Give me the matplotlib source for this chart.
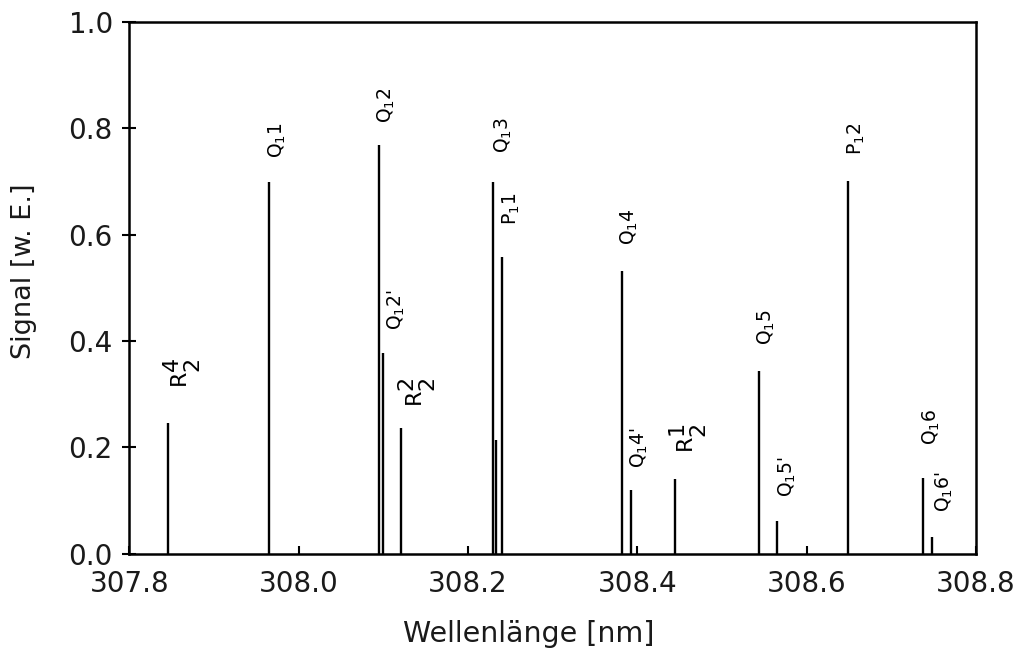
import numpy as np
import matplotlib
matplotlib.use("Agg")
import matplotlib.pyplot as plt

plt.rcParams['mathtext.default'] = 'regular'
plt.rcParams['font.family'] = ['DejaVu Sans']

# Linienlagen [nm] und Signalhöhen [w. E.]
wellenlaenge = [307.845, 307.965, 308.095, 308.100, 308.1205, 308.230, 308.2327,
                308.240, 308.3815, 308.392, 308.4445, 308.544, 308.5646, 308.649,
                308.737, 308.748]
signal = [0.245, 0.699, 0.768, 0.378, 0.237, 0.699, 0.214,
          0.558, 0.532, 0.120, 0.140, 0.344, 0.062, 0.701,
          0.142, 0.032]
bezeichnung = [r"R$\genfrac{}{}{0}{0}{4}{2}$", r"Q$_1$1", r"Q$_1$2", r"Q$_1$2'",
               r"R$\genfrac{}{}{0}{0}{2}{2}$", r"Q$_1$3", "",
               r"P$_1$1", r"Q$_1$4", r"Q$_1$4'", r"R$\genfrac{}{}{0}{0}{1}{2}$",
               r"Q$_1$5", r"Q$_1$5'", r"P$_1$2", r"Q$_1$6", r"Q$_1$6'"]

# Versatz der Beschriftungen (Punkte): seitlich, ueber der Linie
versatz_x = [10.5, 6, 5.3, 9.6, 11.5, 6.8, 0, 6.8, 5.3, 6, 9.4, 5.3, 7.5, 6, 6, 8.9]
versatz_y = [25.2, 17.3, 15.8, 16.6, 15.1, 20.9, 0, 23, 18.7, 15.8, 18.7, 18.7, 17.3,
             18.7, 23.8, 18]

fig = plt.figure(figsize=(10.22, 6.48), dpi=100)
ax = fig.add_axes([0.1267, 0.1455, 0.8283, 0.8205])

ax.vlines(wellenlaenge, 0, signal, color="black", linewidth=1.7)

for x, y, txt, dx, dy in zip(wellenlaenge, signal, bezeichnung, versatz_x, versatz_y):
    if not txt:
        continue
    # R-Linien: gestapelte Ziffern, etwas groesser
    gross = 16 if txt.startswith("R") else 13.5
    ax.annotate(txt, (x, y), xytext=(dx, dy), textcoords="offset points",
                rotation=90, ha="center", va="bottom", fontsize=gross)

ax.set_xlim(307.8, 308.8)
ax.set_ylim(0, 1.0)
ax.set_xticks(np.arange(307.8, 308.81, 0.2))
ax.set_yticks(np.arange(0, 1.01, 0.2))
ax.xaxis.set_major_formatter(plt.FormatStrFormatter("%.1f"))
ax.yaxis.set_major_formatter(plt.FormatStrFormatter("%.1f"))

ax.tick_params(axis="x", direction="in", length=6, width=1.5, pad=12, labelsize=20,
               labelcolor="#1a1a1a")
ax.tick_params(axis="y", direction="inout", length=10, width=1.5, pad=7, labelsize=20,
               labelcolor="#1a1a1a")
for s in ax.spines.values():
    s.set_linewidth(1.8)

ax.set_xlabel("Wellenlänge [nm]", fontsize=20.5, color="#1a1a1a")
ax.set_ylabel("Signal [w. E.]", fontsize=19.5, color="#1a1a1a")
ax.xaxis.set_label_coords(0.472, -0.125)
ax.yaxis.set_label_coords(-0.109, 0.532)

fig.savefig("out.png", dpi=100)
